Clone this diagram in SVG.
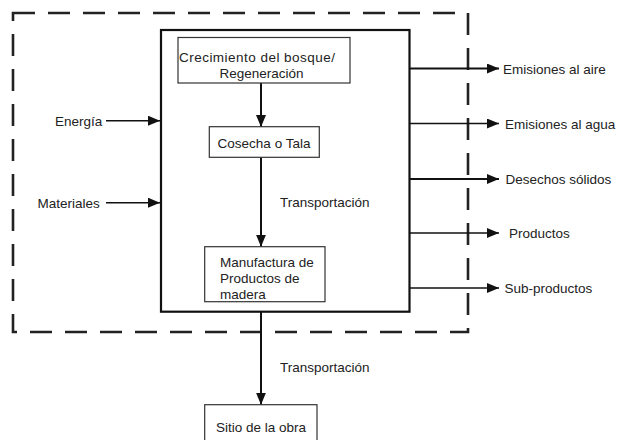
<svg xmlns="http://www.w3.org/2000/svg" width="618" height="440" viewBox="0 0 618 440">
<style>
text{font-family:"Liberation Sans",Arial,sans-serif;font-size:13.5px;fill:#222}
.box{fill:#fff;stroke:#333;stroke-width:1.2}
.main{fill:none;stroke:#111;stroke-width:2.2}
.dash{fill:none;stroke:#222;stroke-width:2.6;stroke-dasharray:22 13}
.c{stroke:#111;stroke-width:2;fill:none}
.o{stroke:#111;stroke-width:1.5;fill:none}
</style>
<defs>
<marker id="ah" markerUnits="userSpaceOnUse" markerWidth="12" markerHeight="10" viewBox="0 0 12 10" refX="12" refY="5" orient="auto">
<path d="M0,0 L12,5 L0,10 Z" fill="#111"/>
</marker>
</defs>
<rect class="dash" x="13" y="13" width="455" height="319"/>
<rect class="main" x="161" y="30" width="248.5" height="281.7"/>
<g id="connectors">
<line class="c" x1="261" y1="83" x2="261" y2="127" marker-end="url(#ah)"/>
<line class="c" x1="261" y1="157.3" x2="261" y2="246.7" marker-end="url(#ah)"/>
<line class="c" x1="261" y1="311.7" x2="261" y2="404.7" marker-end="url(#ah)"/>
<line class="o" x1="106" y1="120.7" x2="160" y2="120.7" marker-end="url(#ah)"/>
<line class="o" x1="106" y1="202.7" x2="160" y2="202.7" marker-end="url(#ah)"/>
<line class="c" x1="409.5" y1="68.5" x2="499" y2="68.5" marker-end="url(#ah)"/>
<line class="o" x1="409.5" y1="123.5" x2="499" y2="123.5" marker-end="url(#ah)"/>
<line class="c" x1="409.5" y1="179" x2="499" y2="179" marker-end="url(#ah)"/>
<line class="o" x1="409.5" y1="233" x2="499" y2="233" marker-end="url(#ah)"/>
<line class="o" x1="409.5" y1="288" x2="499" y2="288" marker-end="url(#ah)"/>
<text x="280" y="206.5">Transportación</text>
<text x="280" y="372">Transportación</text>
</g>
<g id="crecimiento">
<rect class="box" x="178" y="37.5" width="172" height="45.5"/>
<text x="179" y="61.5" textLength="156">Crecimiento del bosque/</text>
<text x="261.5" y="78" text-anchor="middle">Regeneración</text>
</g>
<g id="cosecha">
<rect class="box" x="209.3" y="126.7" width="110" height="30.6"/>
<text x="264" y="147.5" text-anchor="middle">Cosecha o Tala</text>
</g>
<g id="manufactura">
<rect class="box" x="204.7" y="246.7" width="120.3" height="55"/>
<text x="220" y="267">Manufactura de</text>
<text x="220" y="283">Productos de</text>
<text x="220" y="299">madera</text>
</g>
<g id="sitio">
<rect class="box" x="204.7" y="404.7" width="112.3" height="40"/>
<text x="261" y="431.5" text-anchor="middle">Sitio de la obra</text>
</g>
<g id="energia"><text x="55" y="125.5">Energía</text></g>
<g id="materiales"><text x="37.5" y="207.5">Materiales</text></g>
<g id="aire"><text x="503" y="73.5">Emisiones al aire</text></g>
<g id="agua"><text x="505" y="128.5">Emisiones al agua</text></g>
<g id="desechos"><text x="505.5" y="184">Desechos sólidos</text></g>
<g id="productos"><text x="509" y="238">Productos</text></g>
<g id="subproductos"><text x="504.5" y="293">Sub-productos</text></g>
</svg>
